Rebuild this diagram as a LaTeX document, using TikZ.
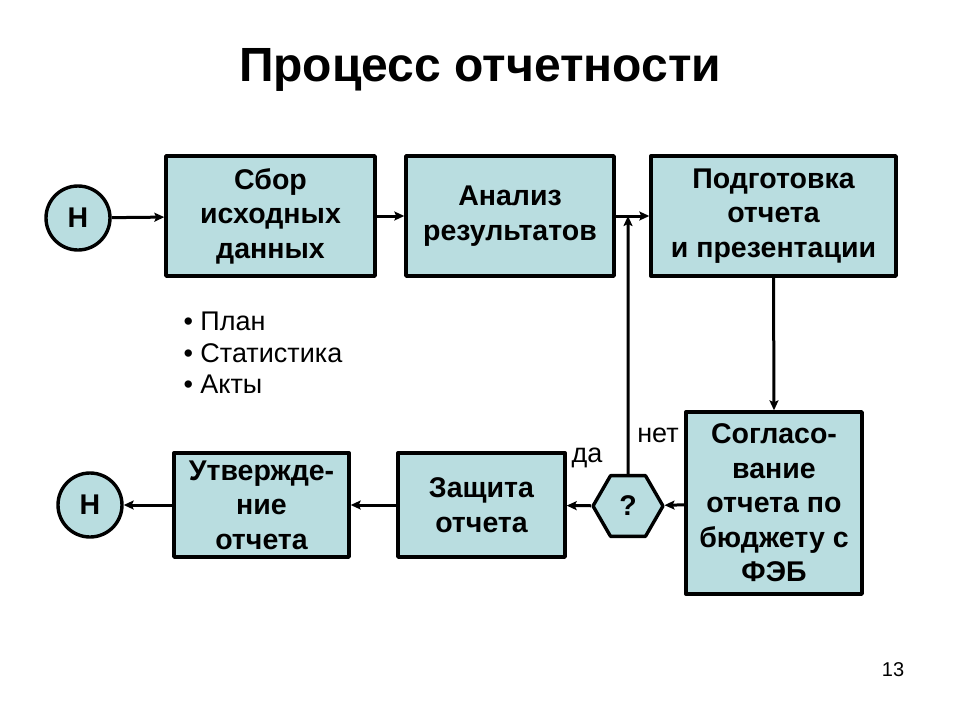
\documentclass[tikz,border=0pt]{standalone}
\usepackage{fontspec}
\setmainfont{Liberation Sans}
\usetikzlibrary{shapes.geometric,arrows.meta}
\definecolor{boxfill}{RGB}{185,221,224}
\begin{document}
\begin{tikzpicture}[x=1pt,y=-1pt,>={Stealth[length=10pt,width=9pt,inset=2pt]},line join=round,
	stepbox/.style={draw,line width=3.4pt,fill=boxfill,align=center,inner sep=0pt,
		font=\bfseries\fontsize{28.5}{34.5}\selectfont},
	termnode/.style={circle,draw,line width=3.4pt,fill=boxfill,minimum size=64pt,inner sep=0pt,
		font=\bfseries\fontsize{28.5}{30}\selectfont},
	flow/.style={->,line width=3pt},
	note/.style={font=\fontsize{27}{31.5}\selectfont}]
	\useasboundingbox (0,0) rectangle (960,720);
	\node[font=\bfseries\fontsize{48}{58}\selectfont] (title) at (480,70) {Процесс отчетности};
	\node[termnode] (start) at (78,218) {Н};
	\node[stepbox,minimum width=209pt,minimum height=120pt] (collect) at (270.5,216) {Сбор\\исходных\\данных};
	\node[stepbox,minimum width=208pt,minimum height=120pt] (analysis) at (510,216) {Анализ\\результатов};
	\node[stepbox,minimum width=245pt,minimum height=120pt] (report) at (773.5,216) {Подготовка\\отчета\\и презентации};
	\node[stepbox,minimum width=176pt,minimum height=182pt] (agree) at (774,503) {Согласо-\\вание\\отчета по\\бюджету с\\ФЭБ};
	\node[stepbox,regular polygon,regular polygon sides=6,minimum size=70pt] (check) at (628,506) {?};
	\node[stepbox,minimum width=167pt,minimum height=104pt] (defense) at (481.5,505) {Защита\\отчета};
	\node[stepbox,minimum width=175pt,minimum height=104pt] (approve) at (261.5,505) {Утвержде-\\ние\\отчета};
	\node[termnode] (finish) at (90,505) {Н};
	\node[note,anchor=west,align=left] (sources) at (180,353) {• План\\• Статистика\\• Акты};
	\node[note] (no) at (658,435) {нет};
	\node[note] (yes) at (587,458) {да};
	\node[font=\fontsize{20}{24}\selectfont] (page) at (893,670) {13};
	\coordinate (join) at (628,216);
	% arrows
	\draw[flow] (start) -- (collect);
	\draw[flow] (collect) -- (analysis);
	\draw[flow] (analysis) -- (report);
	\draw[flow] (check.north) -- (join);
	\draw[flow] (report.south) -- (agree.north);
	\draw[flow] (agree) -- (check);
	\draw[flow] (check) -- (defense);
	\draw[flow] (defense) -- (approve);
	\draw[flow] (approve) -- (finish);
\end{tikzpicture}
\end{document}
